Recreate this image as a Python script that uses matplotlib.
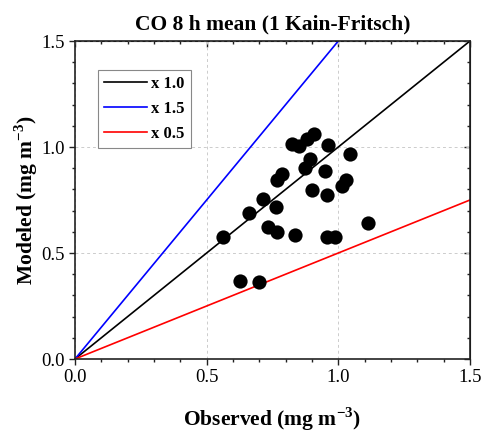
import matplotlib
matplotlib.use("Agg")
import matplotlib.pyplot as plt
from matplotlib.ticker import MultipleLocator, FormatStrFormatter
import numpy as np

# Observed vs modelled CO 8 h mean concentrations (mg m^-3)
observed = [0.561, 0.661, 0.715, 0.763, 0.734, 0.768, 0.834, 0.766, 0.786,
            0.825, 0.851, 0.882, 0.909, 0.893, 0.875, 0.962, 1.046, 0.949,
            0.900, 0.957, 1.013, 1.028, 1.114, 0.956, 0.987, 0.627, 0.699]
modeled = [0.577, 0.690, 0.755, 0.718, 0.621, 0.598, 0.585, 0.844, 0.873,
           1.013, 1.005, 1.036, 1.061, 0.942, 0.900, 1.009, 0.966, 0.888,
           0.797, 0.774, 0.817, 0.844, 0.640, 0.577, 0.577, 0.369, 0.362]

ratio_labels = ["x 1.0", "x 1.5", "x 0.5"]
ratio_factors = [1.0, 1.5, 0.5]
ratio_colors = ["black", "#0000ff", "#ff0000"]

plt.rcParams["font.family"] = ["Liberation Serif", "DejaVu Serif"]
plt.rcParams["mathtext.fontset"] = "custom"
plt.rcParams["mathtext.rm"] = "Liberation Serif"
plt.rcParams["mathtext.bf"] = "Liberation Serif:bold"

fig = plt.figure(figsize=(4.85, 4.33), dpi=100)
ax = fig.add_axes([0.1546, 0.1709, 0.8144, 0.7344])

xr = np.array([0.0, 1.5])
for lab, f, c in zip(ratio_labels, ratio_factors, ratio_colors):
    ax.plot(xr, f * xr, color=c, lw=1.2, label=lab, zorder=2)

ax.scatter(observed, modeled, s=105, color="black", zorder=3, linewidths=0)

ax.set_xlim(0, 1.5)
ax.set_ylim(0, 1.5)
ax.xaxis.set_major_locator(MultipleLocator(0.5))
ax.yaxis.set_major_locator(MultipleLocator(0.5))
ax.xaxis.set_minor_locator(MultipleLocator(0.1))
ax.yaxis.set_minor_locator(MultipleLocator(0.1))
ax.xaxis.set_major_formatter(FormatStrFormatter("%.1f"))
ax.yaxis.set_major_formatter(FormatStrFormatter("%.1f"))
ax.tick_params(which="major", direction="out", length=4, width=1.0,
               labelsize=13.5, color="#222222")
ax.tick_params(which="minor", direction="out", length=2.5, width=1.0,
               color="#222222")
for s in ax.spines.values():
    s.set_linewidth(1.2)
    s.set_color("#222222")

ax.grid(True, which="major", color="#cccccc", ls=(0, (3, 3)), lw=0.7)
ax.set_axisbelow(True)

# mirrored inward ticks on the top and right edges
top = ax.secondary_xaxis("top")
top.xaxis.set_major_locator(MultipleLocator(0.5))
top.xaxis.set_minor_locator(MultipleLocator(0.1))
top.tick_params(which="both", direction="in", labeltop=False, width=1.0,
                color="#222222")
top.tick_params(which="major", length=4)
top.tick_params(which="minor", length=2.5)
right = ax.secondary_yaxis("right")
right.yaxis.set_major_locator(MultipleLocator(0.5))
right.yaxis.set_minor_locator(MultipleLocator(0.1))
right.tick_params(which="both", direction="in", labelright=False, width=1.0,
                  color="#222222")
right.tick_params(which="major", length=4)
right.tick_params(which="minor", length=2.5)

ax.set_title("CO 8 h mean (1 Kain-Fritsch)", fontsize=15.5, fontweight="bold",
             pad=8)
ax.set_xlabel(r"Observed (mg m$^{\mathbf{-3}}$)", fontsize=15.5,
              fontweight="bold", labelpad=14)
ax.set_ylabel(r"Modeled (mg m$^{\mathbf{-3}}$)", fontsize=15.5,
              fontweight="bold", labelpad=0.5)

leg = ax.legend(loc="upper left", bbox_to_anchor=(0.058, 0.909),
                borderaxespad=0.0,
                prop={"weight": "bold", "size": 12}, handlelength=2.6,
                handletextpad=0.25, borderpad=0.35, labelspacing=0.55,
                fancybox=False, framealpha=1)
leg.get_frame().set_edgecolor("#888888")
leg.get_frame().set_linewidth(0.8)

fig.savefig("out.png", dpi=100)
